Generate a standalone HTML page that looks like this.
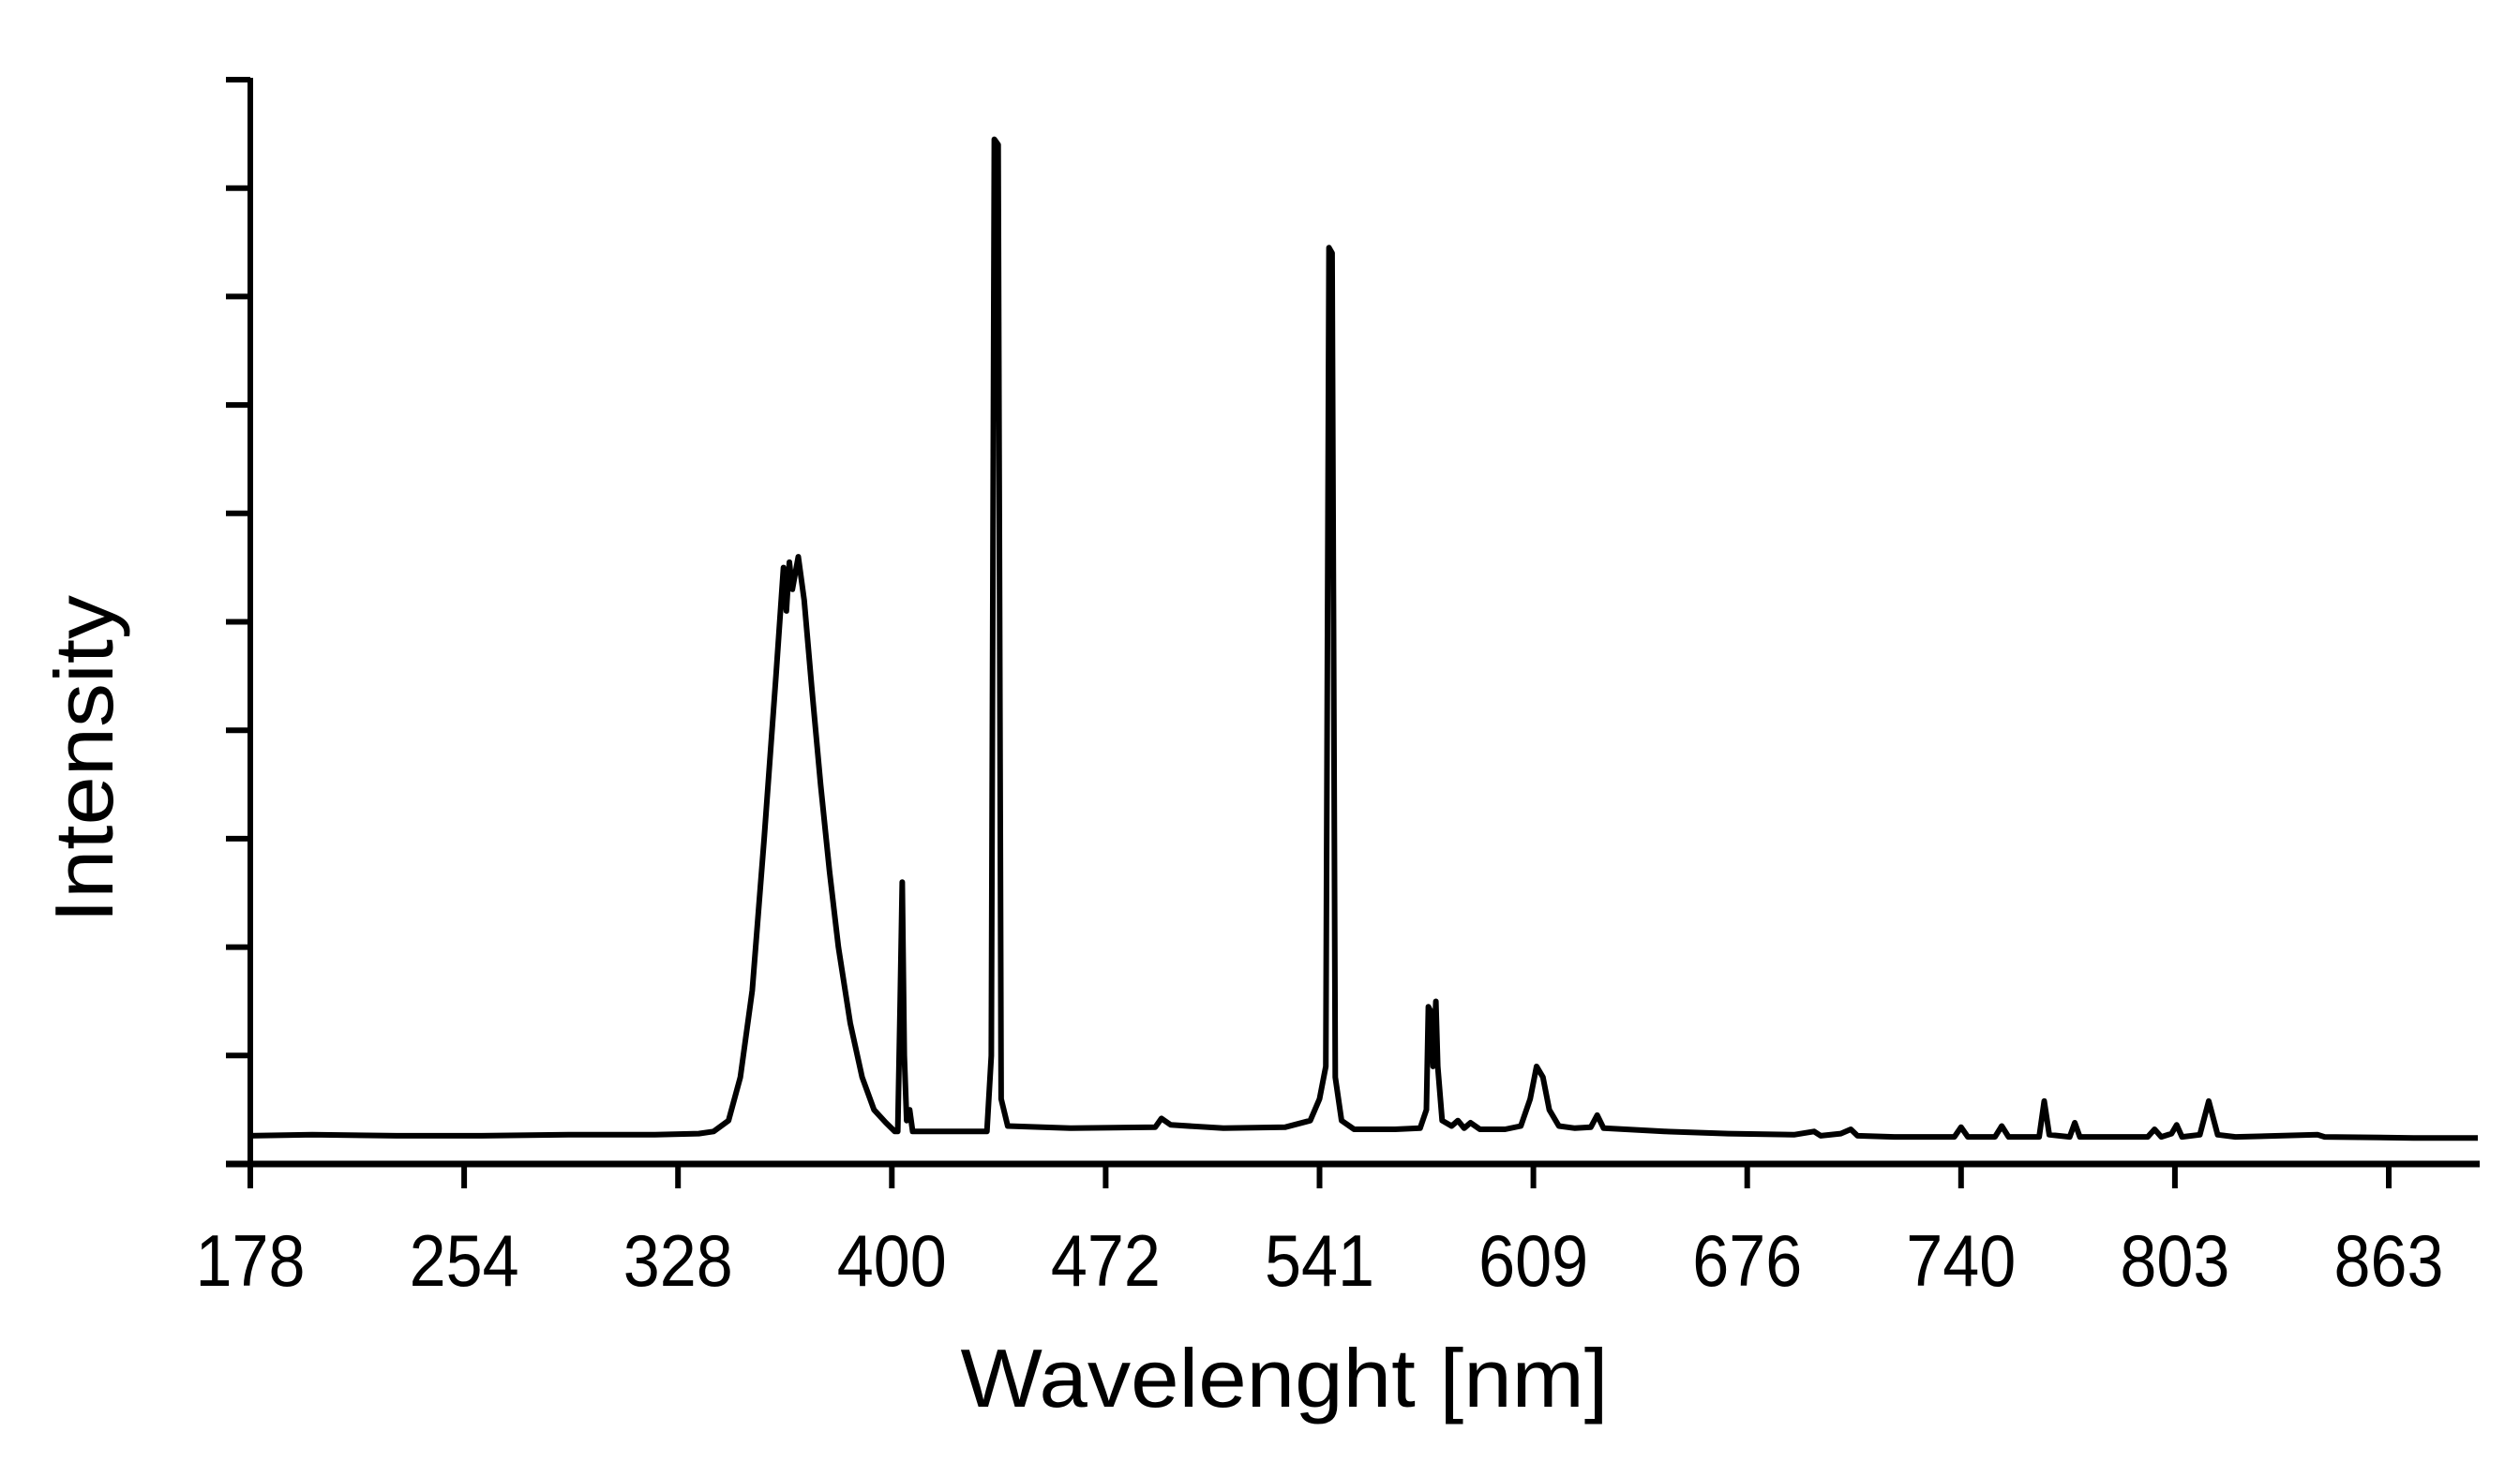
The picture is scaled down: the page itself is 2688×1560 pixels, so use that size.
<!DOCTYPE html>
<html><head><meta charset="utf-8"><style>
html,body{margin:0;padding:0;background:#fff;}
svg{display:block;font-family:"Liberation Sans",sans-serif;}
</style></head><body>
<svg id="chart" width="2688" height="1560" viewBox="0 0 2688 1560" xmlns="http://www.w3.org/2000/svg">
<g id="axes"></g>
<path id="series" fill="none" stroke="#000" stroke-width="6" stroke-linejoin="round"></path>
<text x="1370" y="1501" font-size="88" text-anchor="middle" textLength="691" lengthAdjust="spacingAndGlyphs">Wavelenght [nm]</text>
<text transform="translate(120,810) rotate(-90)" font-size="88" text-anchor="middle" textLength="350" lengthAdjust="spacingAndGlyphs">Intensity</text>
</svg>
<script>
const tickLabels = [178,254,328,400,472,541,609,676,740,803,863];
const yTicks = [0,1,2,3,4,5,6,7,8,9,10];
const wavelengths = [178,200,230,260,290,320,335,340,345,349,353,357,361,363.5,364.5,365.5,366.5,368.5,370.5,373,376,379,382,386,390,394,398,401,402,402.8,403.5,404.2,405,406,407,412,420,432,433.5,434.5,435.8,436.8,439,460,488,490,493,510,530,538,541,543,544,545,546,548,552,565,573,575,575.6,576.5,577.1,578,578.6,580,583,585,587,589,592,600,605,608,610,612,614,617,622,627,629,631,650,670,690,696,698,704,707,709,720,738,740,742,750,752,754,763,764.5,766,772,773.5,775,795,797,799,802,803.5,805,810,812.5,815,820,843,845,870,888];
const intensities = [0.26,0.27,0.26,0.26,0.27,0.27,0.28,0.3,0.4,0.8,1.6,3.0,4.5,5.5,5.1,5.55,5.3,5.6,5.2,4.4,3.5,2.7,2.0,1.3,0.8,0.5,0.38,0.3,0.3,1.5,2.6,1.0,0.4,0.5,0.3,0.3,0.3,0.3,1.0,9.45,9.4,0.6,0.35,0.33,0.34,0.42,0.36,0.33,0.34,0.4,0.6,0.9,8.45,8.4,0.8,0.4,0.32,0.32,0.33,0.5,1.45,1.4,0.9,1.5,0.9,0.4,0.35,0.4,0.33,0.38,0.32,0.32,0.35,0.6,0.9,0.8,0.5,0.35,0.33,0.34,0.45,0.33,0.3,0.28,0.27,0.3,0.26,0.28,0.32,0.26,0.25,0.25,0.34,0.25,0.25,0.35,0.25,0.25,0.58,0.27,0.25,0.38,0.25,0.25,0.32,0.25,0.28,0.36,0.25,0.27,0.58,0.27,0.25,0.27,0.25,0.24,0.24];

const X0 = 267, DX = 228.1, Y0 = 1242, DY = 115.7;
function xScale(nm){
  const t = tickLabels;
  let i = 0;
  while (i < t.length - 2 && nm > t[i+1]) i++;
  return X0 + (i + (nm - t[i]) / (t[i+1] - t[i])) * DX;
}
function yScale(v){ return Y0 - v * DY; }

const NS = "http://www.w3.org/2000/svg";
const axes = document.getElementById('axes');
function mk(tag, attrs){ const e = document.createElementNS(NS, tag); for (const k in attrs) e.setAttribute(k, attrs[k]); axes.appendChild(e); return e; }

let el = mk('line', {x1:X0, y1:yScale(10)-2, x2:X0, y2:Y0+25, stroke:'#000','stroke-width':6});


el = mk('line', {x1:X0-26, y1:Y0, x2:2645, y2:Y0, stroke:'#000','stroke-width':7});



yTicks.forEach(v => {
  const t = mk('line', {x1:X0-26, y1:yScale(v), x2:X0, y2:yScale(v), stroke:'#000','stroke-width':6});
  
  
});
tickLabels.forEach((lab, i) => {
  const x = xScale(lab);
  const t = mk('line', {x1:x, y1:Y0, x2:x, y2:Y0+26, stroke:'#000','stroke-width':6});
  
  
  const tx = mk('text', {x:x, y:1372, 'font-size':78, 'text-anchor':'middle', textLength:117, lengthAdjust:'spacingAndGlyphs'});
  tx.textContent = lab;
  
  
});

let d = '';
wavelengths.forEach((w, i) => {
  d += (i ? 'L' : 'M') + xScale(w).toFixed(1) + ',' + yScale(intensities[i]).toFixed(1);
});
document.getElementById('series').setAttribute('d', d);
</script>
</body></html>
